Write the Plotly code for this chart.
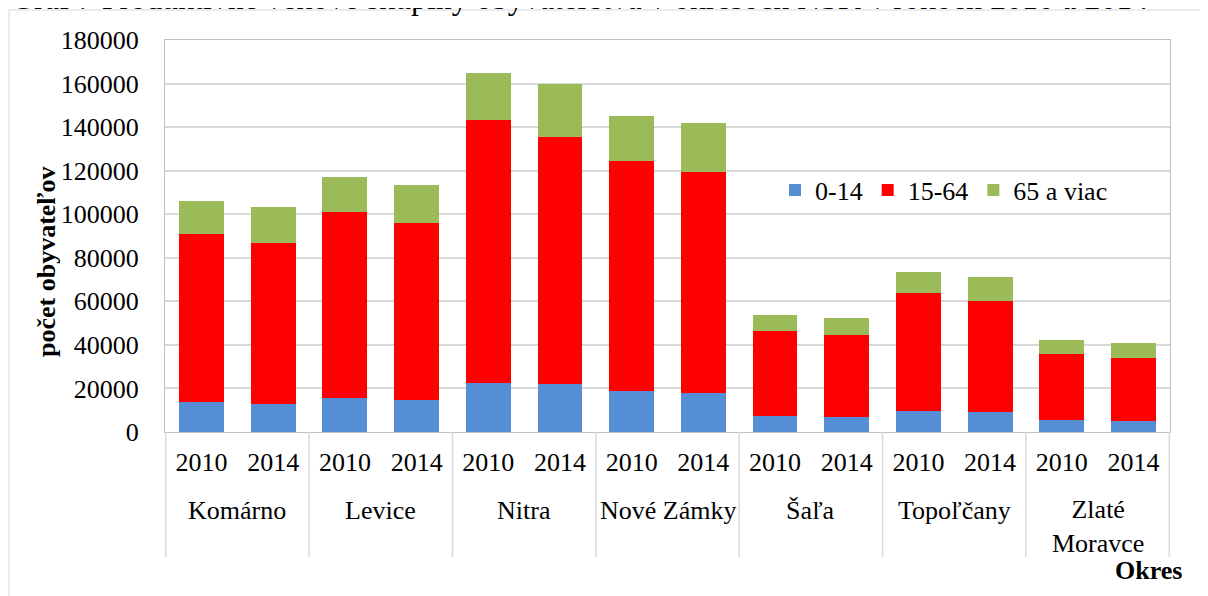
import plotly.graph_objects as go

districts = ["Komárno", "Levice", "Nitra", "Nové Zámky", "Šaľa", "Topoľčany", "Zlaté<br>Moravce"]
years = ["2010", "2014"]

age_0_14 = [13600, 12900, 15600, 14600, 22400, 21900, 18800, 17700, 7300, 7000, 9600, 9200, 5500, 4900]
age_15_64 = [77400, 74000, 85400, 81500, 120900, 113700, 105500, 101600, 39300, 37600, 54200, 51000, 30400, 29200]
age_65 = [14900, 16200, 16100, 17200, 21600, 24100, 21000, 22600, 6900, 7700, 9900, 10900, 6300, 6700]

series_names = ["0-14", "15-64", "65 a viac"]
series_colors = ["#558ED5", "#FF0000", "#9BBB59"]
y_ticks = list(range(0, 180001, 20000))

title_text = "Graf 7 Produktívne vekové skupiny obyvateľstva v okresoch NSK v rokoch 2010 a 2014"
y_title = "počet obyvateľov"
x_title = "Okres"

# one category per bar, labelled with its year
bar_keys = [f"{d}|{y}" for d in districts for y in years]
bar_year_labels = [y for _ in districts for y in years]

FONT = "Liberation Serif"
OFF = 8  # page body margin
W, H = 1200, 588
L, R, T, B = 157, 38, 32, 164
PW, PH = W - L - R, H - T - B


def pg(px, py):
    """page pixel -> paper coords"""
    fx, fy = px - OFF, py - OFF
    return (fx - L) / PW, (H - B - fy) / PH


fig = go.Figure()
for name, vals, col in zip(series_names, [age_0_14, age_15_64, age_65], series_colors):
    fig.add_trace(go.Bar(
        x=bar_keys, y=vals, name=name,
        marker=dict(color=col, line=dict(width=0)),
    ))

shapes = []
x0p, y1p = pg(9, 10)
x1p, y0p = pg(1230, 620)
shapes.append(dict(type="rect", xref="paper", yref="paper", x0=x0p, x1=x1p, y0=y0p, y1=y1p,
                   line=dict(color="#d9d9d9", width=1), fillcolor="rgba(0,0,0,0)", layer="below"))
_, div_bottom = pg(0, 557)
n_y = len(years)
for i in range(len(districts) + 1):
    xb = i * n_y - 0.5
    shapes.append(dict(type="line", xref="x", yref="paper", x0=xb, x1=xb, y0=div_bottom, y1=0,
                       line=dict(color="#d9d9d9", width=1.5)))

annotations = []
tx, ty = pg(9, 18)
annotations.append(dict(text=title_text, xref="paper", yref="paper", x=tx, y=ty, xanchor="left",
                        yanchor="bottom", showarrow=False, font=dict(size=32, family=FONT)))
ytx, yty = pg(46, 262)
annotations.append(dict(text="<b>" + y_title + "</b>", xref="paper", yref="paper", x=ytx, y=yty,
                        xanchor="center", yanchor="middle", textangle=-90, showarrow=False,
                        font=dict(size=26, family=FONT)))
okx, oky = pg(1148, 570)
annotations.append(dict(text="<b>" + x_title + "</b>", xref="paper", yref="paper", x=okx, y=oky,
                        xanchor="center", yanchor="middle", showarrow=False,
                        font=dict(size=26, family=FONT)))
for i, d in enumerate(districts):
    nlines = d.count("<br>") + 1
    _, dy = pg(0, 511 + (nlines - 1) * 31 / 2)
    annotations.append(dict(text=d, xref="x", yref="paper", x=i * n_y + (n_y - 1) / 2, y=dy,
                            xanchor="center", yanchor="middle", showarrow=False,
                            font=dict(size=26, family=FONT, color="black")))

lx, _ = pg(775, 0)
_, ly = pg(0, 190)

fig.update_layout(
    width=W, height=H,
    margin=dict(l=L, r=R, t=T, b=B, autoexpand=False),
    barmode="stack", bargap=0.373,
    paper_bgcolor="white", plot_bgcolor="white",
    font=dict(family=FONT, size=26, color="black"),
    showlegend=True,
    legend=dict(orientation="h", x=lx, xanchor="left", y=ly, yanchor="middle",
                bgcolor="rgba(0,0,0,0)", font=dict(size=26, family=FONT, color="black"),
                itemclick=False, traceorder="normal"),
    xaxis=dict(type="category", tickvals=bar_keys, ticktext=bar_year_labels,
               showline=True, linecolor="#bfbfbf", linewidth=1.3, mirror=True,
               showgrid=False, ticks="", ticklabelstandoff=7,
               tickfont=dict(size=26, family=FONT, color="black"),
               automargin=False),
    yaxis=dict(range=[0, 180000], tickvals=y_ticks, tickformat="d",
               showline=True, linecolor="#bfbfbf", linewidth=1.3, mirror=True,
               showgrid=True, gridcolor="#d9d9d9", gridwidth=1.5,
               zeroline=False, ticks="", ticklabelstandoff=20,
               tickfont=dict(size=26, family=FONT, color="black"), automargin=False),
    shapes=shapes,
    annotations=annotations,
)

fig.write_html("out.html")
